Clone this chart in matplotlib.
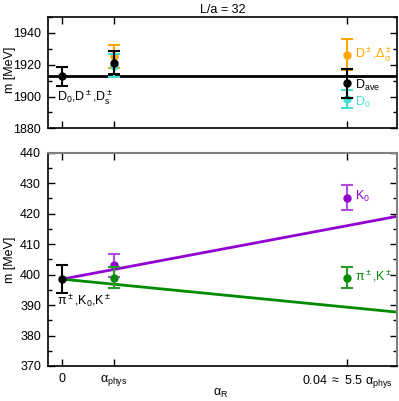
import matplotlib.pyplot as plt
from matplotlib.ticker import MultipleLocator

plt.rcParams['font.family'] = 'Liberation Sans'
plt.rcParams['mathtext.fontset'] = 'custom'
plt.rcParams['mathtext.rm'] = 'Liberation Sans'
plt.rcParams['mathtext.it'] = 'Liberation Sans'
plt.rcParams['mathtext.sf'] = 'Liberation Sans'
plt.rcParams['font.size'] = 9

alpha_phys = 0.00727
x_ticks = [0, alpha_phys, 0.04]
x_ticklabels = ['0', r'$\alpha_{\rm phys}$', r'0.04 $\approx$ 5.5 $\alpha_{\rm phys}$']

# upper panel: D mesons
d_ave_x = [0, alpha_phys, 0.04]
d_ave = [1912.6, 1921.2, 1908.4]
d_ave_err = [5.7, 7.3, 9.2]
d_pm_x = [alpha_phys, 0.04]
d_pm = [1925.3, 1926.3]
d_pm_err = [7.2, 9.8]
d0_x = [alpha_phys, 0.04]
d0 = [1919.4, 1898.6]
d0_err = [7.4, 5.8]
d_fit = 1912.6

# lower panel: pi / K
pk_x = [0]
pk = [398.5]
pk_err = [4.7]
k0_x = [alpha_phys, 0.04]
k0 = [403.0, 425.2]
k0_err = [3.9, 4.1]
kpm_x = [alpha_phys, 0.04]
kpm = [399.0, 399.0]
kpm_err = [3.4, 3.4]
k0_fit = (398.5, 438.0)   # intercept, slope
kpm_fit = (398.5, -230.0)
fit_x = [0, 0.047]

orange = '#ffa500'
cyan = '#40e0d0'
purple = '#9400d3'
purple_err = '#b04ce0'
green = '#008a00'
green_err = '#2a9a2a'

fig = plt.figure(figsize=(3.99, 4.01), dpi=100)
ax1 = fig.add_axes([0.1203, 0.680, 0.874, 0.2776])
ax2 = fig.add_axes([0.1203, 0.0873, 0.874, 0.532])

eb = dict(fmt='o', markersize=5, capsize=4, elinewidth=1.5, capthick=1.5)

ax1.axhline(d_fit, color='black', lw=2, zorder=1)
ax1.errorbar(d_pm_x, d_pm, yerr=d_pm_err, color=orange, zorder=2, **eb)
ax1.errorbar(d0_x, d0, yerr=d0_err, color=cyan, zorder=3, **eb)
ax1.errorbar(d_ave_x, d_ave, yerr=d_ave_err, color='black', zorder=4, **eb)
ax1.text(-0.0008, 1899.5, r'D$_0$,D$^\pm$,D$_s^\pm$', va='center')
ax1.text(0.0412, 1927, r'D$^\pm$,$\Delta_\sigma^\pm$', color=orange, va='center')
ax1.text(0.0412, 1907, r'D$_{\rm ave}$', color='black', va='center')
ax1.text(0.0412, 1896.5, r'D$_0$', color=cyan, va='center')
ax1.set_ylim(1880, 1950)
ax1.yaxis.set_major_locator(MultipleLocator(20))
ax1.yaxis.set_minor_locator(MultipleLocator(10))
ax1.set_title('L/a = 32', fontsize=9, pad=3)

ax2.plot(fit_x, [k0_fit[0] + k0_fit[1] * x for x in fit_x], color=purple, lw=2, zorder=1)
ax2.plot(fit_x, [kpm_fit[0] + kpm_fit[1] * x for x in fit_x], color=green, lw=2, zorder=1)
ax2.errorbar(k0_x, k0, yerr=k0_err, color=purple, ecolor=purple_err, zorder=2, **eb)
ax2.errorbar(kpm_x, kpm, yerr=kpm_err, color=green, ecolor=green_err, zorder=3, **eb)
ax2.errorbar(pk_x, pk, yerr=pk_err, color='black', zorder=4, **eb)
ax2.text(-0.0008, 391.5, r'$\pi^\pm$,K$_0$,K$^\pm$', va='center')
ax2.text(0.0412, 425.5, r'K$_0$', color=purple, va='center')
ax2.text(0.0412, 399.5, r'$\pi^\pm$,K$^\pm$', color=green, va='center')
ax2.set_ylim(370, 440)
ax2.yaxis.set_major_locator(MultipleLocator(10))
ax2.yaxis.set_minor_locator(MultipleLocator(5))

fig.text(0.024, 0.825, 'm [MeV]', rotation=90, ha='center', va='center')
fig.text(0.024, 0.352, 'm [MeV]', rotation=90, ha='center', va='center')
fig.text(0.553, 0.018, r'$\alpha_{\rm R}$', ha='center', va='center')

for ax in (ax1, ax2):
    ax.set_xlim(-0.002, 0.047)
    ax.set_xticks(x_ticks)
    ax.tick_params(direction='in', which='both', top=True, right=True, length=5, width=1,
                   labelsize=9, pad=5)
    ax.tick_params(which='minor', length=3)
    for s in ax.spines.values():
        s.set_linewidth(1.2)
ax1.set_xticklabels([])
ax2.set_xticklabels(x_ticklabels)
ax2.spines['top'].set_color('#808080')
ax2.spines['right'].set_color('#808080')
ax2.spines['top'].set_linewidth(1.5)
ax2.spines['right'].set_linewidth(1.5)

fig.savefig('out.png', dpi=100)
